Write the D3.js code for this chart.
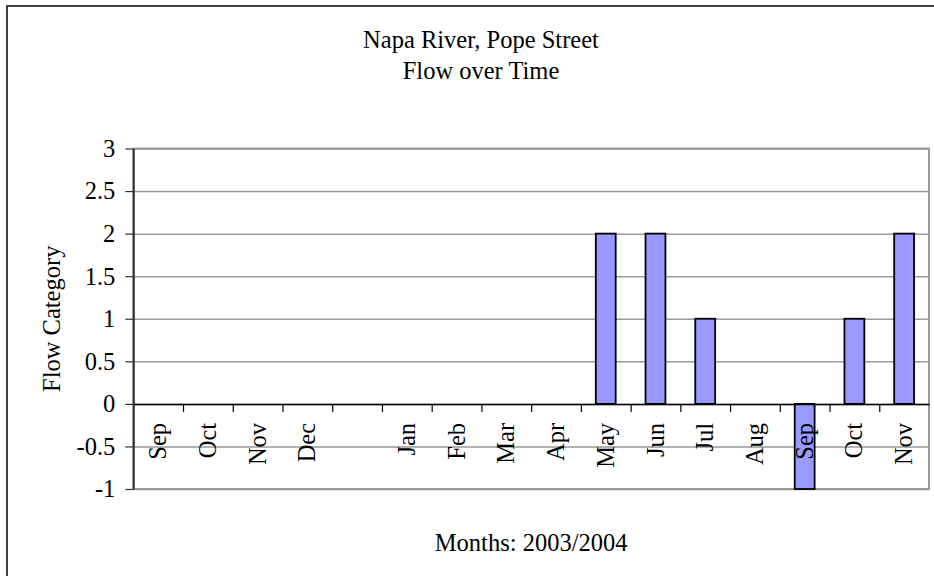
<!DOCTYPE html>
<html>
<head>
<meta charset="utf-8">
<script src="https://cdn.jsdelivr.net/npm/d3@7"></script>
<style>
  body { margin: 0; background: #fff; }
  svg { display: block; font-family: "Liberation Serif", "Times New Roman", serif; }
</style>
</head>
<body>
<div id="chart"></div>
<script>
var months = ["Sep", "Oct", "Nov", "Dec", "", "Jan", "Feb", "Mar", "Apr", "May", "Jun", "Jul", "Aug", "Sep", "Oct", "Nov"];
var flow = [0, 0, 0, 0, null, 0, 0, 0, 0, 2, 2, 1, 0, -1, 1, 2];
var yTicks = [-1, -0.5, 0, 0.5, 1, 1.5, 2, 2.5, 3];
var titleLines = ["Napa River, Pope Street", "Flow over Time"];

var W = 934, H = 576;
var fs = "24.5px";
var margin = { top: 148.5, right: 5, bottom: 87, left: 133.3 },
    w = W - margin.left - margin.right,
    h = H - margin.top - margin.bottom;

var svg = d3.select("#chart").append("svg").attr("width", W).attr("height", H);

// chart area frame, runs off the right and bottom edges
svg.append("rect").attr("x", 7).attr("y", 6).attr("width", 1000).attr("height", 1000)
  .attr("fill", "#fff").attr("stroke", "#000").attr("stroke-width", 1.5);

svg.selectAll(".title").data(titleLines).enter().append("text")
  .attr("class", "title")
  .attr("x", 481).attr("y", function (d, i) { return 48 + i * 31; })
  .attr("text-anchor", "middle").attr("font-size", fs)
  .text(function (d) { return d; });

var g = svg.append("g").attr("transform", "translate(" + margin.left + "," + margin.top + ")");

var x = d3.scaleBand().domain(d3.range(months.length)).range([0, w]);
var xEdge = d3.scaleLinear().domain([0, months.length]).range([0, w]);
var y = d3.scaleLinear().domain([-1, 3]).range([h, 0]);

// gridlines
g.append("g").attr("class", "grid")
  .call(d3.axisLeft(y).tickValues(yTicks).tickSize(-w).tickFormat(""))
  .call(function (s) {
    s.select(".domain").remove();
    s.selectAll("line").attr("stroke", "#999").attr("stroke-width", 1.5);
  });

// plot border
g.append("rect").attr("width", w).attr("height", h)
  .attr("fill", "none").attr("stroke", "#999").attr("stroke-width", 2);

// bars (gap width 150%)
var bw = x.bandwidth() * 0.4;
var bars = flow.map(function (v, i) { return { i: i, v: v }; }).filter(function (d) { return d.v; });
g.selectAll(".bar").data(bars).enter().append("rect")
  .attr("class", "bar")
  .attr("x", function (d) { return x(d.i) + (x.bandwidth() - bw) / 2; })
  .attr("y", function (d) { return y(Math.max(0, d.v)); })
  .attr("width", bw)
  .attr("height", function (d) { return Math.abs(y(d.v) - y(0)); })
  .attr("fill", "#9999ff").attr("stroke", "#000").attr("stroke-width", 1.8);

// x axis at zero, ticks between categories
g.append("g").attr("transform", "translate(0," + y(0) + ")")
  .call(d3.axisBottom(xEdge).tickValues(d3.range(1, months.length)).tickSize(8).tickFormat("").tickSizeOuter(0))
  .call(function (s) {
    s.select(".domain").attr("stroke", "#000").attr("stroke-width", 1.5);
    s.selectAll(".tick line").attr("stroke", "#000").attr("stroke-width", 1.2);
  });

g.selectAll(".mlab").data(months).enter().append("text")
  .attr("class", "mlab")
  .attr("transform", function (d, i) {
    return "translate(" + (x(i) + x.bandwidth() / 2) + "," + (y(0) + 19) + ") rotate(-90)";
  })
  .attr("dy", "0.33em").attr("text-anchor", "end").attr("font-size", fs)
  .text(function (d) { return d; });

// y axis
g.append("g")
  .call(d3.axisLeft(y).tickValues(yTicks).tickSize(8).tickPadding(10).tickSizeOuter(0)
    .tickFormat(function (d) { return String(d); }))
  .call(function (s) {
    s.select(".domain").attr("stroke", "#333").attr("stroke-width", 2);
    s.selectAll(".tick line").attr("stroke", "#333").attr("stroke-width", 1.2);
    s.selectAll(".tick text").attr("font-size", fs).attr("fill", "#000")
      .attr("font-family", "Liberation Serif, Times New Roman, serif");
  });

// axis titles
svg.append("text").attr("transform", "translate(51," + (margin.top + h / 2) + ") rotate(-90)")
  .attr("text-anchor", "middle").attr("dy", "0.35em").attr("font-size", fs)
  .text("Flow Category");

svg.append("text").attr("x", margin.left + w / 2).attr("y", 551)
  .attr("text-anchor", "middle").attr("font-size", fs)
  .text("Months: 2003/2004");
</script>
</body>
</html>
